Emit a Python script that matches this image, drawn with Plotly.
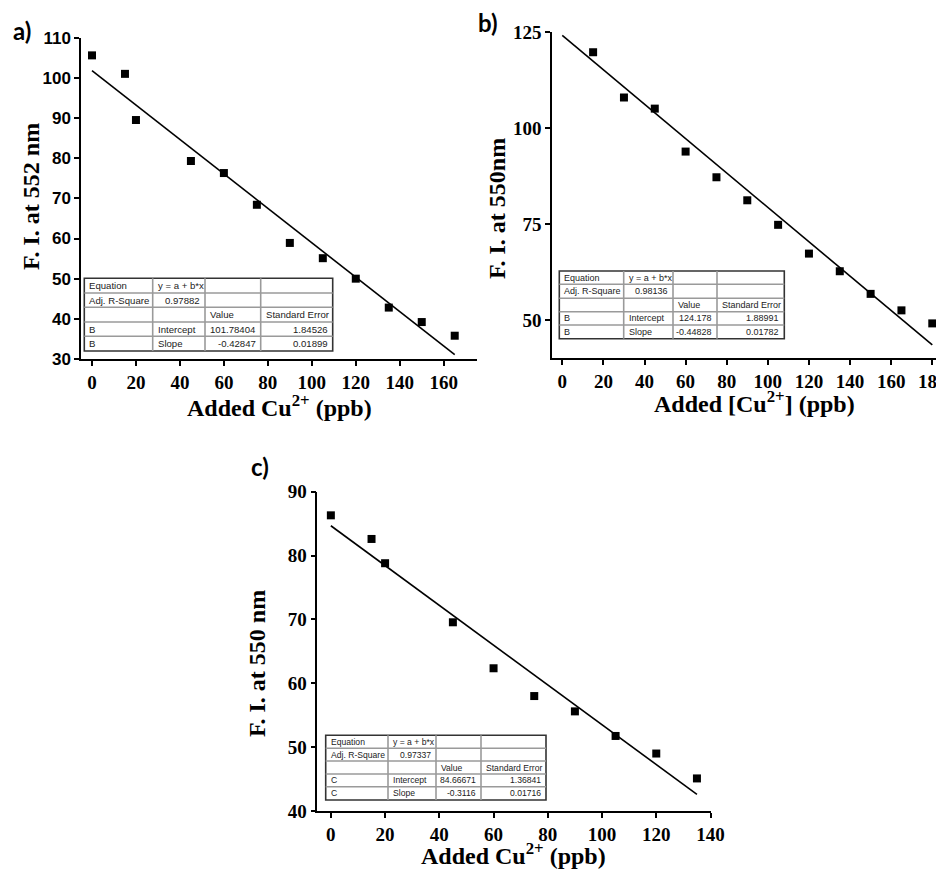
import plotly.graph_objects as go

# ---------------- data ----------------
a_x = [0, 15, 20, 45, 60, 75, 90, 105, 120, 135, 150, 165]
a_y = [105.6, 101.0, 89.5, 79.3, 76.3, 68.4, 58.9, 55.1, 50.0, 42.8, 39.2, 35.8]
a_intercept, a_slope = 101.78404, -0.42847

b_x = [15, 30, 45, 60, 75, 90, 105, 120, 135, 150, 165, 180]
b_y = [119.8, 108.0, 105.1, 93.9, 87.2, 81.2, 74.8, 67.3, 62.7, 56.8, 52.5, 49.1]
b_intercept, b_slope = 124.178, -0.44828

c_x = [0, 15, 20, 45, 60, 75, 90, 105, 120, 135]
c_y = [86.3, 82.6, 78.8, 69.55, 62.35, 58.0, 55.6, 51.75, 49.0, 45.1]
c_intercept, c_slope = 84.66671, -0.3116

a_table = [["Equation", "y = a + b*x", "", ""],
           ["Adj. R-Square", "0.97882", "", ""],
           ["", "", "Value", "Standard Error"],
           ["B", "Intercept", "101.78404", "1.84526"],
           ["B", "Slope", "-0.42847", "0.01899"]]
b_table = [["Equation", "y = a + b*x", "", ""],
           ["Adj. R-Square", "0.98136", "", ""],
           ["", "", "Value", "Standard Error"],
           ["B", "Intercept", "124.178", "1.88991"],
           ["B", "Slope", "-0.44828", "0.01782"]]
c_table = [["Equation", "y = a + b*x", "", ""],
           ["Adj. R-Square", "0.97337", "", ""],
           ["", "", "Value", "Standard Error"],
           ["C", "Intercept", "84.66671", "1.36841"],
           ["C", "Slope", "-0.3116", "0.01716"]]

a_xticks = [0, 20, 40, 60, 80, 100, 120, 140, 160]
a_yticks = [30, 40, 50, 60, 70, 80, 90, 100, 110]
b_xticks = [0, 20, 40, 60, 80, 100, 120, 140, 160, 180]
b_yticks = [50, 75, 100, 125]
c_xticks = [0, 20, 40, 60, 80, 100, 120, 140]
c_yticks = [40, 50, 60, 70, 80, 90]

# ---------------- layout helpers ----------------
# The page body keeps an 8px margin, so the figure is drawn 8px in from the
# window's top-left; positions below are given in window pixels.
OFF = 8
WIN_W, WIN_H = 944, 872
W, H = WIN_W - OFF, WIN_H - OFF
def px(x):
    return (x - OFF) / W
def py(y):
    return 1 - (y - OFF) / H

SERIF = "Liberation Serif"
SANS = "Liberation Sans"

fig = go.Figure()

panels = [
    dict(name="a", x=a_x, y=a_y, b0=a_intercept, b1=a_slope, table=a_table,
         xdom=(81, 476.7), ydom=(37.7, 359), xr=[-5, 175], yr=[30, 110],
         xt=a_xticks, yt=a_yticks, ytfont=dict(family=SANS, size=17, weight="bold", color="black"),
         cols=[84.3, 152.7, 205, 260.7, 332.7], rows=[278.3, 293, 307.3, 322, 336.3, 351], tfs=9.6,
         ytitle="F. I. at 552 nm", ytpos=(31, 197),
         xtitle="Added Cu<sup>2+</sup> (ppb)", xtpos=(279, 406),
         label="a)", lpos=(22, 31)),
    dict(name="b", x=b_x, y=b_y, b0=b_intercept, b1=b_slope, table=b_table,
         xdom=(552, 944), ydom=(32.3, 358.3), xr=[-5, 185.7], yr=[40, 125],
         xt=b_xticks, yt=b_yticks, ytfont=dict(family=SERIF, size=19, weight="bold", color="black"),
         cols=[559.3, 623.7, 673, 717, 784.3], rows=[271, 284.3, 298.3, 311.7, 325, 338.7], tfs=9.0,
         ytitle="F. I. at 550nm", ytpos=(497, 209),
         xtitle="Added [Cu<sup>2+</sup>] (ppb)", xtpos=(754, 402),
         label="b)", lpos=(488, 22)),
    dict(name="c", x=c_x, y=c_y, b0=c_intercept, b1=c_slope, table=c_table,
         xdom=(317.3, 710.5), ydom=(491.7, 811), xr=[-5, 140], yr=[40, 90],
         xt=c_xticks, yt=c_yticks, ytfont=dict(family=SERIF, size=19, weight="bold", color="black"),
         cols=[325.7, 388, 436, 481, 546], rows=[735.3, 748.3, 761, 774, 786.7, 800], tfs=8.6,
         ytitle="F. I. at 550 nm", ytpos=(257, 664),
         xtitle="Added Cu<sup>2+</sup> (ppb)", xtpos=(514, 854),
         label="c)", lpos=(260, 466)),
]

shapes = []
annotations = []
layout_axes = {}

for i, p in enumerate(panels):
    n = "" if i == 0 else str(i + 1)
    xa, ya = "x" + n, "y" + n
    # fit line
    fx = [0, max(p["x"])]
    fy = [p["b0"] + p["b1"] * v for v in fx]
    fig.add_trace(go.Scatter(x=fx, y=fy, mode="lines", xaxis=xa, yaxis=ya,
                             line=dict(color="black", width=1.6), showlegend=False,
                             cliponaxis=False, hoverinfo="skip"))
    fig.add_trace(go.Scatter(x=p["x"], y=p["y"], mode="markers", xaxis=xa, yaxis=ya,
                             marker=dict(symbol="square", size=8, color="black"),
                             showlegend=False, cliponaxis=False))
    common = dict(showline=True, linecolor="black", linewidth=1.5, ticks="outside",
                  ticklen=5, tickwidth=1.5, tickcolor="black", showgrid=False,
                  zeroline=False, mirror=False, automargin=False, ticklabeloverflow="allow")
    layout_axes["xaxis" + n] = dict(domain=[px(p["xdom"][0]), min(1.0, px(p["xdom"][1]))],
                                    range=p["xr"], anchor=ya, tickvals=p["xt"],
                                    tickfont=dict(family=SERIF, size=19, weight="bold", color="black"),
                                    **common)
    layout_axes["yaxis" + n] = dict(domain=[py(p["ydom"][1]), py(p["ydom"][0])],
                                    range=p["yr"], anchor=xa, tickvals=p["yt"],
                                    tickfont=p["ytfont"], **common)
    # axis titles
    annotations.append(dict(text=p["ytitle"], x=px(p["ytpos"][0]), y=py(p["ytpos"][1]),
                            xref="paper", yref="paper", showarrow=False, textangle=-90,
                            xanchor="center", yanchor="middle",
                            font=dict(family=SERIF, size=24, weight="bold", color="black")))
    annotations.append(dict(text=p["xtitle"], x=px(p["xtpos"][0]), y=py(p["xtpos"][1]),
                            xref="paper", yref="paper", showarrow=False,
                            xanchor="center", yanchor="middle",
                            font=dict(family=SERIF, size=24, weight="bold", color="black")))
    annotations.append(dict(text=p["label"], x=px(p["lpos"][0]), y=py(p["lpos"][1]),
                            xref="paper", yref="paper", showarrow=False,
                            xanchor="center", yanchor="middle",
                            font=dict(family="Lato", size=24, weight="bold", color="black")))
    # inset table
    cols, rows = p["cols"], p["rows"]
    shapes.append(dict(type="rect", xref="paper", yref="paper",
                       x0=px(cols[0]), x1=px(cols[-1]), y0=py(rows[-1]), y1=py(rows[0]),
                       fillcolor="white", line=dict(color="#333333", width=1.6), layer="above"))
    for c in cols[1:-1]:
        shapes.append(dict(type="line", xref="paper", yref="paper",
                           x0=px(c), x1=px(c), y0=py(rows[-1]), y1=py(rows[0]),
                           line=dict(color="#9a9a9a", width=1.6), layer="above"))
    for r in rows[1:-1]:
        shapes.append(dict(type="line", xref="paper", yref="paper",
                           x0=px(cols[0]), x1=px(cols[-1]), y0=py(r), y1=py(r),
                           line=dict(color="#9a9a9a", width=1.6), layer="above"))
    for ri, row in enumerate(p["table"]):
        ymid = (rows[ri] + rows[ri + 1]) / 2
        for ci, txt in enumerate(row):
            if not txt:
                continue
            right = (ri == 1 and ci == 1) or (ri >= 3 and ci >= 2)
            if right:
                xx, anc = cols[ci + 1] - 3, "right"
            else:
                xx, anc = cols[ci] + 3, "left"
            annotations.append(dict(text=txt, x=px(xx), y=py(ymid), xref="paper", yref="paper",
                                    showarrow=False, xanchor=anc, yanchor="middle",
                                    font=dict(family=SANS, size=p["tfs"], color="#222222")))

fig.update_layout(template="none", width=W, height=H, margin=dict(l=0, r=0, t=0, b=0),
                  paper_bgcolor="white", plot_bgcolor="white", showlegend=False,
                  shapes=shapes, annotations=annotations, **layout_axes)

fig.write_html("out.html")
